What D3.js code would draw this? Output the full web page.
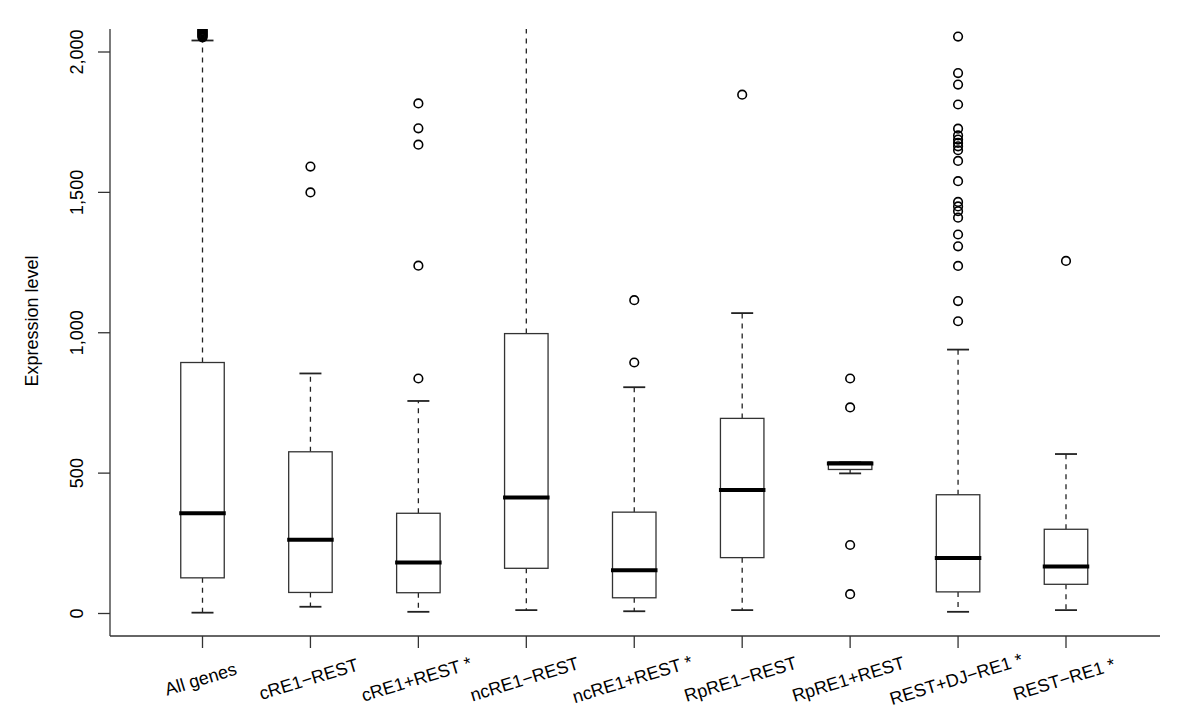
<!DOCTYPE html>
<html>
<head>
<meta charset="utf-8">
<script src="https://cdn.jsdelivr.net/npm/d3@7"></script>
<style>
  body { margin: 0; background: #fff; }
  svg { font-family: "Liberation Sans", Arial, Helvetica, sans-serif; }
</style>
</head>
<body>
<div id="chart"></div>
<script>
// groups along the x axis
var categories = ["All genes", "cRE1\u2212REST", "cRE1+REST *", "ncRE1\u2212REST", "ncRE1+REST *",
                  "RpRE1\u2212REST", "RpRE1+REST", "REST+DJ\u2212RE1 *", "REST\u2212RE1 *"];

// box statistics
var whiskLo = [3, 24, 6, 12, 8, 12, 499, 6, 12];
var q1      = [127, 75, 74, 161, 56, 199, 513, 77, 104];
var median  = [357, 263, 182, 413, 154, 440, 534, 198, 167];
var q3      = [894, 576, 357, 997, 361, 695, 540, 423, 300];
var whiskHi = [2041, 855, 757, 2600, 806, 1070, 540, 940, 568];

// outliers per group (All genes has a dense pile clipped at the top)
var outliers = [
  [2052, 2055, 2058, 2061, 2064, 2067, 2070, 2073, 2076, 2080, 2085, 2090, 2100, 2150, 2300],
  [1592, 1500],
  [1817, 1728, 1670, 1239, 837],
  [],
  [1116, 894],
  [1848],
  [837, 734, 244, 69],
  [2055, 1925, 1884, 1813, 1727, 1703, 1688, 1676, 1664, 1650, 1612, 1540, 1466, 1450, 1433, 1410, 1350, 1308, 1238, 1113, 1041],
  [1256]
];

var yTicks = [0, 500, 1000, 1500, 2000];

var width = 1200, height = 726;
var svg = d3.select("#chart").append("svg")
  .attr("width", width)
  .attr("height", height);

var plotLeft = 110, plotRight = 1160, plotTop = 29, plotBottom = 636;

var x = d3.scalePoint().domain(categories).range([202.5, 1066]);
var y = d3.scaleLinear().domain([0, 2000]).range([613.5, 52]);

var boxW = 43.5, capW = 22;
var ink = "#222";

// clip to plot region
svg.append("clipPath").attr("id", "plotclip")
  .append("rect")
  .attr("x", plotLeft).attr("y", plotTop)
  .attr("width", plotRight - plotLeft).attr("height", plotBottom - plotTop);

var plot = svg.append("g").attr("clip-path", "url(#plotclip)");

var groups = categories.map(function(c, i) {
  return {name: c, lo: whiskLo[i], q1: q1[i], med: median[i], q3: q3[i], hi: whiskHi[i], out: outliers[i]};
});

var g = plot.selectAll("g.box")
  .data(groups)
  .enter().append("g")
  .attr("class", "box")
  .attr("transform", function(d) { return "translate(" + x(d.name) + ",0)"; });

// whiskers (dashed)
g.append("line")
  .attr("x1", 0).attr("x2", 0)
  .attr("y1", function(d) { return y(d.q3); })
  .attr("y2", function(d) { return y(d.hi); })
  .attr("stroke", ink).attr("stroke-width", 1.3).attr("stroke-dasharray", "5,5");
g.append("line")
  .attr("x1", 0).attr("x2", 0)
  .attr("y1", function(d) { return y(d.q1); })
  .attr("y2", function(d) { return y(d.lo); })
  .attr("stroke", ink).attr("stroke-width", 1.3).attr("stroke-dasharray", "5,5");

// caps
g.append("line")
  .attr("x1", -capW / 2).attr("x2", capW / 2)
  .attr("y1", function(d) { return y(d.hi); })
  .attr("y2", function(d) { return y(d.hi); })
  .attr("stroke", ink).attr("stroke-width", 1.8);
g.append("line")
  .attr("x1", -capW / 2).attr("x2", capW / 2)
  .attr("y1", function(d) { return y(d.lo); })
  .attr("y2", function(d) { return y(d.lo); })
  .attr("stroke", ink).attr("stroke-width", 1.8);

// box
g.append("rect")
  .attr("x", -boxW / 2)
  .attr("width", boxW)
  .attr("y", function(d) { return y(d.q3); })
  .attr("height", function(d) { return y(d.q1) - y(d.q3); })
  .attr("fill", "#fff")
  .attr("stroke", "#333").attr("stroke-width", 1.3);

// median
g.append("line")
  .attr("x1", -boxW / 2 - 1.5).attr("x2", boxW / 2 + 1.5)
  .attr("y1", function(d) { return y(d.med); })
  .attr("y2", function(d) { return y(d.med); })
  .attr("stroke", "#000").attr("stroke-width", 4);

// outlier points
g.selectAll("circle")
  .data(function(d) { return d.out; })
  .enter().append("circle")
  .attr("cx", 0)
  .attr("cy", function(v) { return y(v); })
  .attr("r", 4.3)
  .attr("fill", "none")
  .attr("stroke", "#000").attr("stroke-width", 1.6);

// y axis
var yAxis = svg.append("g");
yAxis.append("line")
  .attr("x1", plotLeft).attr("x2", plotLeft)
  .attr("y1", plotTop).attr("y2", plotBottom)
  .attr("stroke", "#333").attr("stroke-width", 1.3);
yAxis.selectAll("line.tick")
  .data(yTicks).enter().append("line")
  .attr("class", "tick")
  .attr("x1", plotLeft - 12).attr("x2", plotLeft)
  .attr("y1", function(v) { return y(v); })
  .attr("y2", function(v) { return y(v); })
  .attr("stroke", "#333").attr("stroke-width", 1.3);
yAxis.selectAll("text")
  .data(yTicks).enter().append("text")
  .attr("transform", function(v) { return "translate(83," + y(v) + ") rotate(-90)"; })
  .attr("text-anchor", "middle")
  .attr("font-size", 18)
  .text(function(v) { return d3.format(",")(v); });

svg.append("text")
  .attr("transform", "translate(38,321) rotate(-90)")
  .attr("text-anchor", "middle")
  .attr("font-size", 18)
  .text("Expression level");

// x axis
var xAxis = svg.append("g");
xAxis.append("line")
  .attr("x1", plotLeft).attr("x2", plotRight)
  .attr("y1", plotBottom).attr("y2", plotBottom)
  .attr("stroke", "#333").attr("stroke-width", 1.3);
xAxis.selectAll("line.tick")
  .data(categories).enter().append("line")
  .attr("class", "tick")
  .attr("x1", function(c) { return x(c); }).attr("x2", function(c) { return x(c); })
  .attr("y1", plotBottom).attr("y2", plotBottom + 12)
  .attr("stroke", "#333").attr("stroke-width", 1.3);
xAxis.selectAll("text")
  .data(categories).enter().append("text")
  .attr("transform", function(c) { return "translate(" + x(c) + ",685) rotate(-17)"; })
  .attr("text-anchor", "middle")
  .attr("font-size", 18)
  .text(function(c) { return c; });
</script>
</body>
</html>
